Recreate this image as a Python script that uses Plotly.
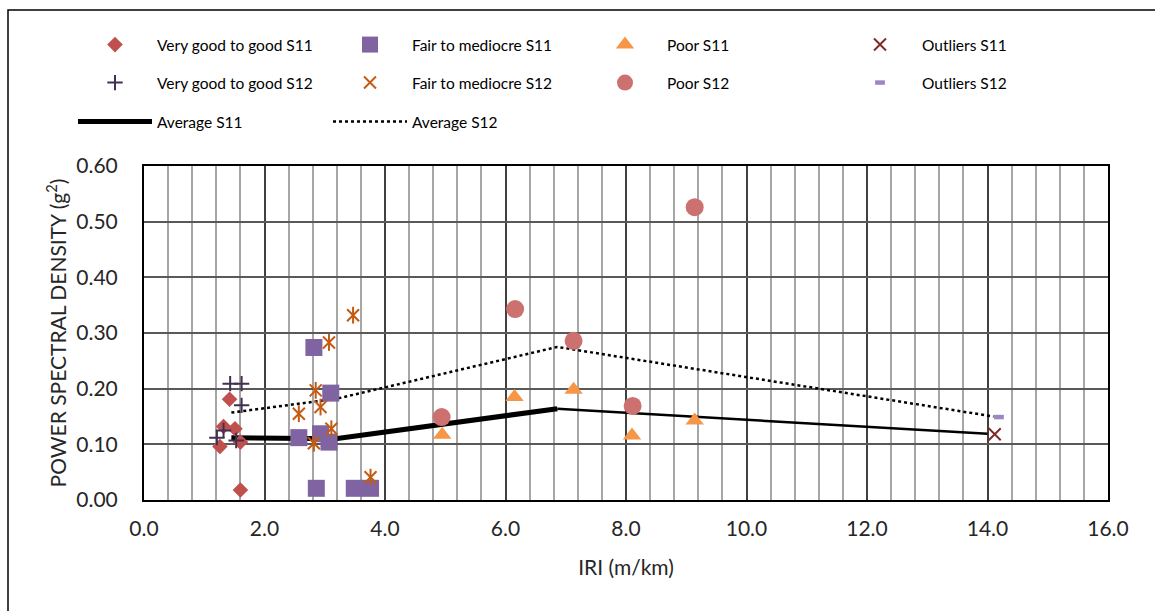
import plotly.graph_objects as go

# IRI (m/km) and power spectral density (g^2) per condition class
vg_s11_iri = [1.42, 1.32, 1.51, 1.26, 1.60, 1.60]
vg_s11_psd = [0.181, 0.132, 0.128, 0.096, 0.104, 0.018]

fair_s11_iri = [2.82, 3.10, 2.57, 2.93, 3.07, 2.86, 3.49, 3.76]
fair_s11_psd = [0.274, 0.192, 0.112, 0.119, 0.104, 0.021, 0.021, 0.021]

poor_s11_iri = [4.95, 6.15, 7.13, 8.10, 9.14]
poor_s11_psd = [0.117, 0.185, 0.198, 0.116, 0.143]

out_s11_iri = [14.12]
out_s11_psd = [0.118]

vg_s12_iri = [1.43, 1.62, 1.62, 1.32, 1.21, 1.53]
vg_s12_psd = [0.209, 0.209, 0.170, 0.125, 0.112, 0.107]

fair_s12_iri = [3.47, 3.07, 2.85, 2.93, 2.57, 3.11, 2.82, 3.76]
fair_s12_psd = [0.332, 0.283, 0.197, 0.167, 0.155, 0.128, 0.102, 0.041]

poor_s12_iri = [4.94, 6.16, 7.13, 8.11, 9.14]
poor_s12_psd = [0.149, 0.343, 0.286, 0.169, 0.526]

out_s12_iri = [14.19]
out_s12_psd = [0.149]

avg_s11_iri = [1.45, 3.18, 6.86, 14.0]
avg_s11_psd = [0.112, 0.110, 0.164, 0.119]

avg_s12_iri = [1.45, 3.20, 6.86, 14.1]
avg_s12_psd = [0.157, 0.182, 0.275, 0.150]

x_ticks = [0, 2, 4, 6, 8, 10, 12, 14, 16]
y_ticks = [0.0, 0.1, 0.2, 0.3, 0.4, 0.5, 0.6]

FONT = "Lato"
TXT = "#262626"

fig = go.Figure()

# average lines sit beneath the markers
fig.add_trace(go.Scatter(
    x=avg_s11_iri[:3], y=avg_s11_psd[:3], mode="lines", name="Average S11",
    line=dict(color="black", width=5), legend="legend3"))
fig.add_trace(go.Scatter(
    x=avg_s11_iri[2:], y=avg_s11_psd[2:], mode="lines", showlegend=False,
    line=dict(color="black", width=2.5), legend="legend3"))
fig.add_trace(go.Scatter(
    x=avg_s12_iri, y=avg_s12_psd, mode="lines", name="Average S12",
    line=dict(color="black", width=2.5, dash="dot"), legend="legend3"))

# S11 classes
fig.add_trace(go.Scatter(
    x=vg_s11_iri, y=vg_s11_psd, mode="markers", name="Very good to good S11",
    marker=dict(symbol="diamond", size=12, color="#C0504D"), legend="legend"))
fig.add_trace(go.Scatter(
    x=fair_s11_iri, y=fair_s11_psd, mode="markers", name="Fair to mediocre S11",
    marker=dict(symbol="square", size=17, color="#8064A2"), legend="legend"))
fig.add_trace(go.Scatter(
    x=poor_s11_iri, y=poor_s11_psd, mode="markers", name="Poor S11",
    marker=dict(symbol="triangle-up", size=16, color="#F79646"), legend="legend"))
fig.add_trace(go.Scatter(
    x=out_s11_iri, y=out_s11_psd, mode="markers", name="Outliers S11",
    marker=dict(symbol="x-thin-open", size=12, color="#7F2A2A",
                line=dict(width=2, color="#7F2A2A")), legend="legend"))

# S12 classes
fig.add_trace(go.Scatter(
    x=vg_s12_iri, y=vg_s12_psd, mode="markers", name="Very good to good S12",
    marker=dict(symbol="cross-thin-open", size=11, color="#403152",
                line=dict(width=2, color="#403152")), legend="legend2"))
fig.add_trace(go.Scatter(
    x=fair_s12_iri, y=fair_s12_psd, mode="markers", name="Fair to mediocre S12",
    marker=dict(symbol="x-thin-open", size=12, color="#C55A11",
                line=dict(width=2, color="#C55A11")), legend="legend2"))
fig.add_trace(go.Scatter(
    x=fair_s12_iri, y=fair_s12_psd, mode="markers", showlegend=False,
    marker=dict(symbol="line-ns-open", size=12, color="#C55A11",
                line=dict(width=2, color="#C55A11")), legend="legend2"))
fig.add_trace(go.Scatter(
    x=poor_s12_iri, y=poor_s12_psd, mode="markers", name="Poor S12",
    marker=dict(symbol="circle", size=18, color="#CD7070"), legend="legend2"))
fig.add_trace(go.Scatter(
    x=out_s12_iri, y=out_s12_psd, mode="markers", name="Outliers S12",
    marker=dict(symbol="line-ew-open", size=7, color="#9D87C2",
                line=dict(width=4.5, color="#9D87C2")), legend="legend2"))

L, R, T, B = 144, 47, 166, 111
PW, PH = 1155 - L - R, 611 - T - B


def px_x(px):
    return (px - L) / PW


def px_y(py):
    return (611 - B - py) / PH


legend_common = dict(orientation="h", xanchor="left", yanchor="middle",
                     font=dict(family=FONT, size=15.5, color="black"),
                     bgcolor="rgba(0,0,0,0)", itemwidth=74,
                     entrywidth=166, entrywidthmode="pixels",
                     traceorder="normal")

fig.update_layout(
    width=1155, height=611,
    margin=dict(l=L, r=R, t=T, b=B),
    paper_bgcolor="white", plot_bgcolor="white",
    font=dict(family=FONT, color=TXT),
    legend=dict(x=px_x(73), y=px_y(45), **legend_common),
    legend2=dict(x=px_x(73), y=px_y(83), **legend_common),
    legend3=dict(x=px_x(73), y=px_y(122), **legend_common),
    xaxis=dict(
        range=[0, 16], tickvals=x_ticks, tickformat=".1f",
        showgrid=True, gridcolor="#404040", gridwidth=1.5,
        minor=dict(dtick=0.4, showgrid=True, gridcolor="#A6A6A6", gridwidth=2),
        showline=True, linecolor="black", linewidth=2, mirror=True,
        zeroline=False, ticks="", ticklabelstandoff=9,
        tickfont=dict(family=FONT, size=21, color=TXT),
        title=dict(text="IRI (m/km)", standoff=21,
                   font=dict(family=FONT, size=21, color=TXT)),
    ),
    yaxis=dict(
        range=[0, 0.6], tickvals=y_ticks, tickformat=".2f",
        showgrid=True, gridcolor="#595959", gridwidth=1.5,
        showline=True, linecolor="black", linewidth=2, mirror=True,
        zeroline=False, ticks="", ticklabelstandoff=20,
        tickfont=dict(family=FONT, size=21, color=TXT),
        title=dict(text="POWER SPECTRAL DENSITY (g<sup>2</sup>)", standoff=4,
                   font=dict(family=FONT, size=21, color=TXT)),
    ),
    shapes=[dict(type="rect", xref="paper", yref="paper",
                 x0=px_x(8), x1=px_x(1170), y0=px_y(630), y1=px_y(10),
                 line=dict(color="black", width=1.5), layer="above")],
)

fig.write_html("out.html")
